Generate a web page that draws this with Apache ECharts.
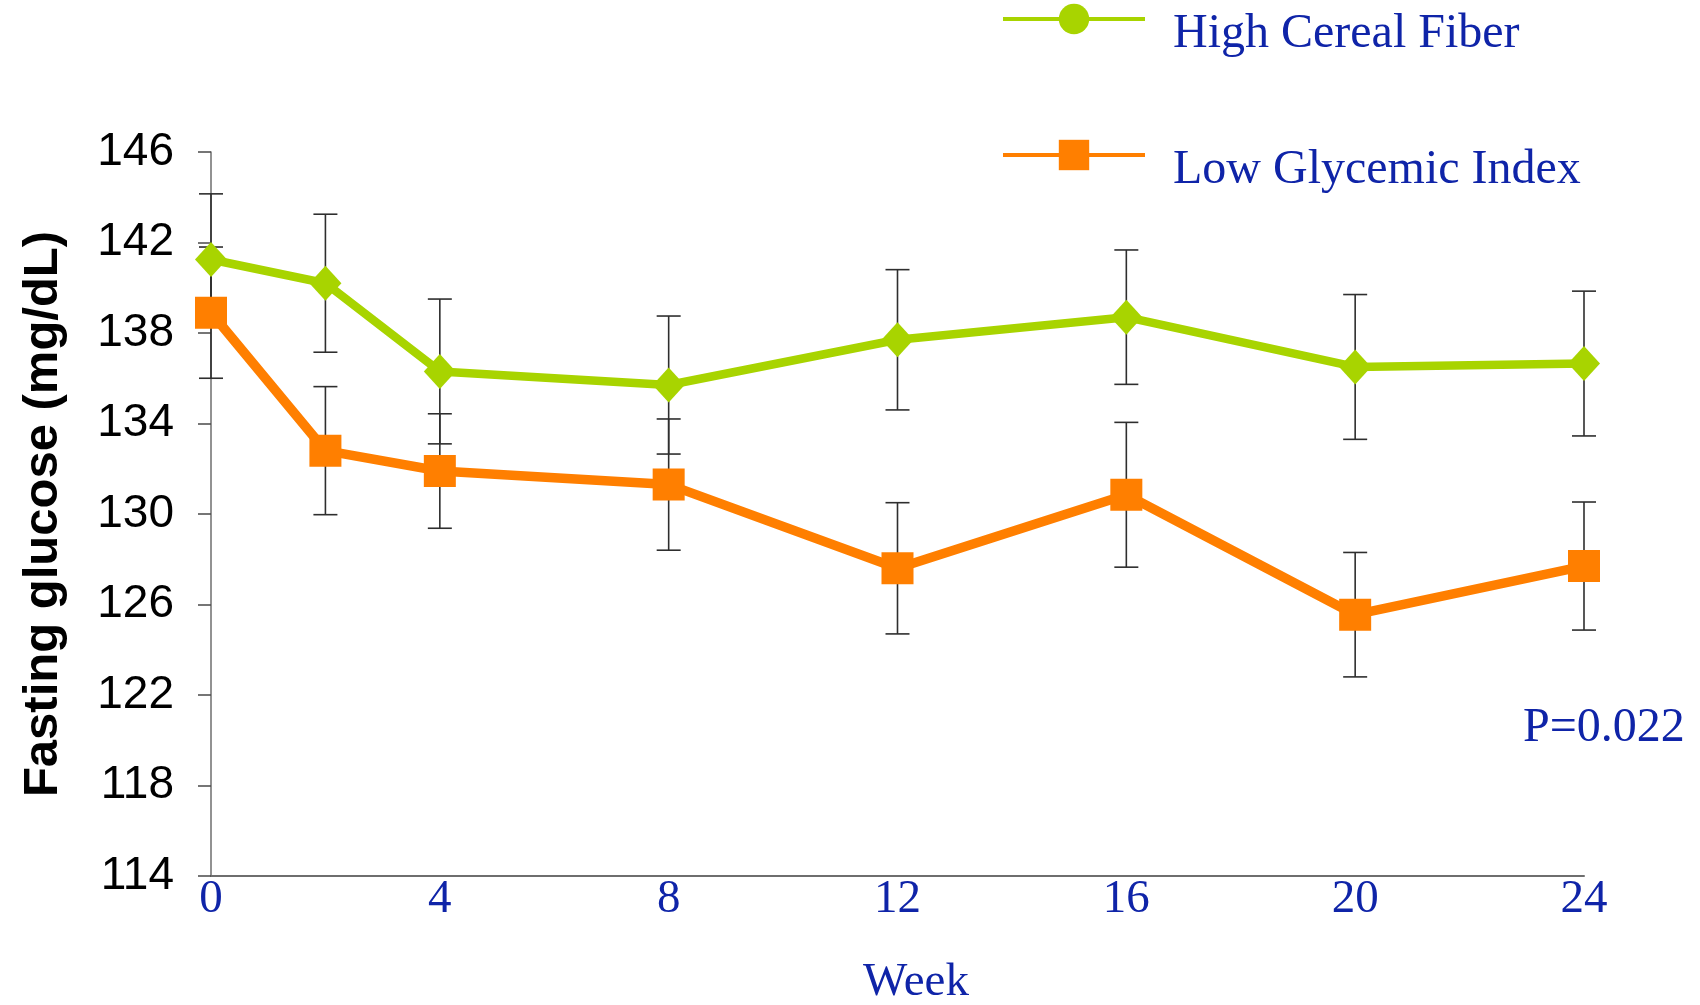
<!DOCTYPE html>
<html>
<head>
<meta charset="utf-8">
<script src="https://cdn.jsdelivr.net/npm/echarts@6/dist/echarts.min.js"></script>
<style>
  html, body { margin: 0; padding: 0; background: #ffffff; }
  #chart { width: 1700px; height: 1005px; }
</style>
</head>
<body>
<div id="chart"></div>
<script>
// Study weeks at which fasting glucose was measured
const weeks = [0, 2, 4, 8, 12, 16, 20, 24];

// High cereal fiber diet: mean fasting glucose (mg/dL) and error half-width
const fiberMean = [141.25, 140.2, 136.3, 135.7, 137.7, 138.7, 136.5, 136.65];
const fiberErr  = [2.9, 3.05, 3.2, 3.05, 3.1, 2.97, 3.2, 3.2];

// Low glycemic index diet: mean fasting glucose (mg/dL) and error half-width
const lowGiMean = [138.9, 132.8, 131.9, 131.3, 127.6, 130.85, 125.55, 127.7];
const lowGiErr  = [2.9, 2.83, 2.53, 2.9, 2.9, 3.2, 2.75, 2.83];

const xTicks = { min: 0, max: 24, step: 4 };
const yTicks = { min: 114, max: 146, step: 4 };

const seriesNames = ['High Cereal Fiber', 'Low Glycemic Index'];
const pValueText = 'P=0.022';

const BLUE = '#0F24A8';
const GREEN = '#A8D400';
const ORANGE = '#FF7F00';
const SERIF = '"Liberation Serif", "Times New Roman", serif';
const SANS = '"Liberation Sans", Arial, sans-serif';

function errorRows(mean, err) {
  return weeks.map((w, i) => [w, mean[i] - err[i], mean[i] + err[i]]);
}

// Vertical whisker with horizontal caps, placed through the axis scales
function renderErrorBar(params, api) {
  const x = api.value(0);
  const lo = api.coord([x, api.value(1)]);
  const hi = api.coord([x, api.value(2)]);
  const half = 12;
  const style = { stroke: '#2e2e2e', lineWidth: 1.6 };
  return {
    type: 'group',
    children: [
      { type: 'line', shape: { x1: hi[0], y1: hi[1], x2: lo[0], y2: lo[1] }, style: style },
      { type: 'line', shape: { x1: hi[0] - half, y1: hi[1], x2: hi[0] + half, y2: hi[1] }, style: style },
      { type: 'line', shape: { x1: lo[0] - half, y1: lo[1], x2: lo[0] + half, y2: lo[1] }, style: style }
    ]
  };
}

const chart = echarts.init(document.getElementById('chart'), null, { renderer: 'canvas' });

chart.setOption({
  animation: false,
  backgroundColor: '#ffffff',
  grid: { left: 211, right: 116, top: 152, bottom: 129, containLabel: false },
  legend: {
    orient: 'vertical',
    left: 1001,
    top: -10,
    padding: 0,
    itemWidth: 142,
    itemHeight: 38,
    itemGap: 68,
    data: seriesNames,
    lineStyle: { width: 4 },
    // an empty leading line drops each label a little below its icon
    formatter: function (name) { return '{gap| }\n{t|' + name + '}'; },
    textStyle: {
      fontFamily: SERIF,
      fontSize: 48,
      color: BLUE,
      padding: [0, 0, 0, 23],
      rich: {
        gap: { fontSize: 10, lineHeight: 30 },
        t: { fontFamily: SERIF, fontSize: 48, lineHeight: 48, color: BLUE }
      }
    }
  },
  xAxis: {
    type: 'value',
    min: xTicks.min,
    max: xTicks.max,
    interval: xTicks.step,
    axisLine: { show: true, lineStyle: { color: '#6e6e6e', width: 2 } },
    axisTick: { show: false },
    splitLine: { show: false },
    axisLabel: {
      color: BLUE,
      fontFamily: SERIF,
      fontSize: 47,
      margin: 0
    }
  },
  yAxis: {
    type: 'value',
    min: yTicks.min,
    max: yTicks.max,
    interval: yTicks.step,
    name: 'Fasting glucose (mg/dL)',
    nameLocation: 'middle',
    nameGap: 143,
    nameTextStyle: {
      fontFamily: SANS,
      fontWeight: 'bold',
      fontSize: 49,
      color: '#000000'
    },
    axisLine: { show: true, lineStyle: { color: '#6e6e6e', width: 1.5 } },
    axisTick: { show: true, length: 13, lineStyle: { color: '#4a4a4a', width: 1.5 } },
    splitLine: { show: false },
    axisLabel: {
      color: '#000000',
      fontFamily: SANS,
      fontSize: 46,
      margin: 37
    }
  },
  graphic: [
    {
      type: 'text',
      x: 916,
      y: 983,
      style: {
        text: 'Week',
        fontFamily: SERIF,
        fontSize: 47,
        fill: BLUE,
        align: 'center',
        verticalAlign: 'middle'
      }
    },
    {
      type: 'text',
      x: 1523,
      y: 728,
      style: {
        text: pValueText,
        fontFamily: SERIF,
        fontSize: 48,
        fill: BLUE,
        align: 'left',
        verticalAlign: 'middle'
      }
    }
  ],
  series: [
    {
      type: 'custom',
      name: 'fiber-error',
      renderItem: renderErrorBar,
      data: errorRows(fiberMean, fiberErr),
      encode: { x: 0, y: [1, 2] },
      z: 1,
      silent: true
    },
    {
      type: 'custom',
      name: 'lowgi-error',
      renderItem: renderErrorBar,
      data: errorRows(lowGiMean, lowGiErr),
      encode: { x: 0, y: [1, 2] },
      z: 1,
      silent: true
    },
    {
      type: 'line',
      name: seriesNames[0],
      symbol: 'circle',
      symbolSize: [32, 35],
      lineStyle: { color: GREEN, width: 8.5 },
      itemStyle: { color: GREEN },
      z: 3,
      data: weeks.map((w, i) => ({ value: [w, fiberMean[i]], symbol: 'diamond' }))
    },
    {
      type: 'line',
      name: seriesNames[1],
      symbol: 'rect',
      symbolSize: 32,
      lineStyle: { color: ORANGE, width: 9.5 },
      itemStyle: { color: ORANGE },
      z: 3,
      data: weeks.map((w, i) => ({ value: [w, lowGiMean[i]] }))
    }
  ]
});
</script>
</body>
</html>
